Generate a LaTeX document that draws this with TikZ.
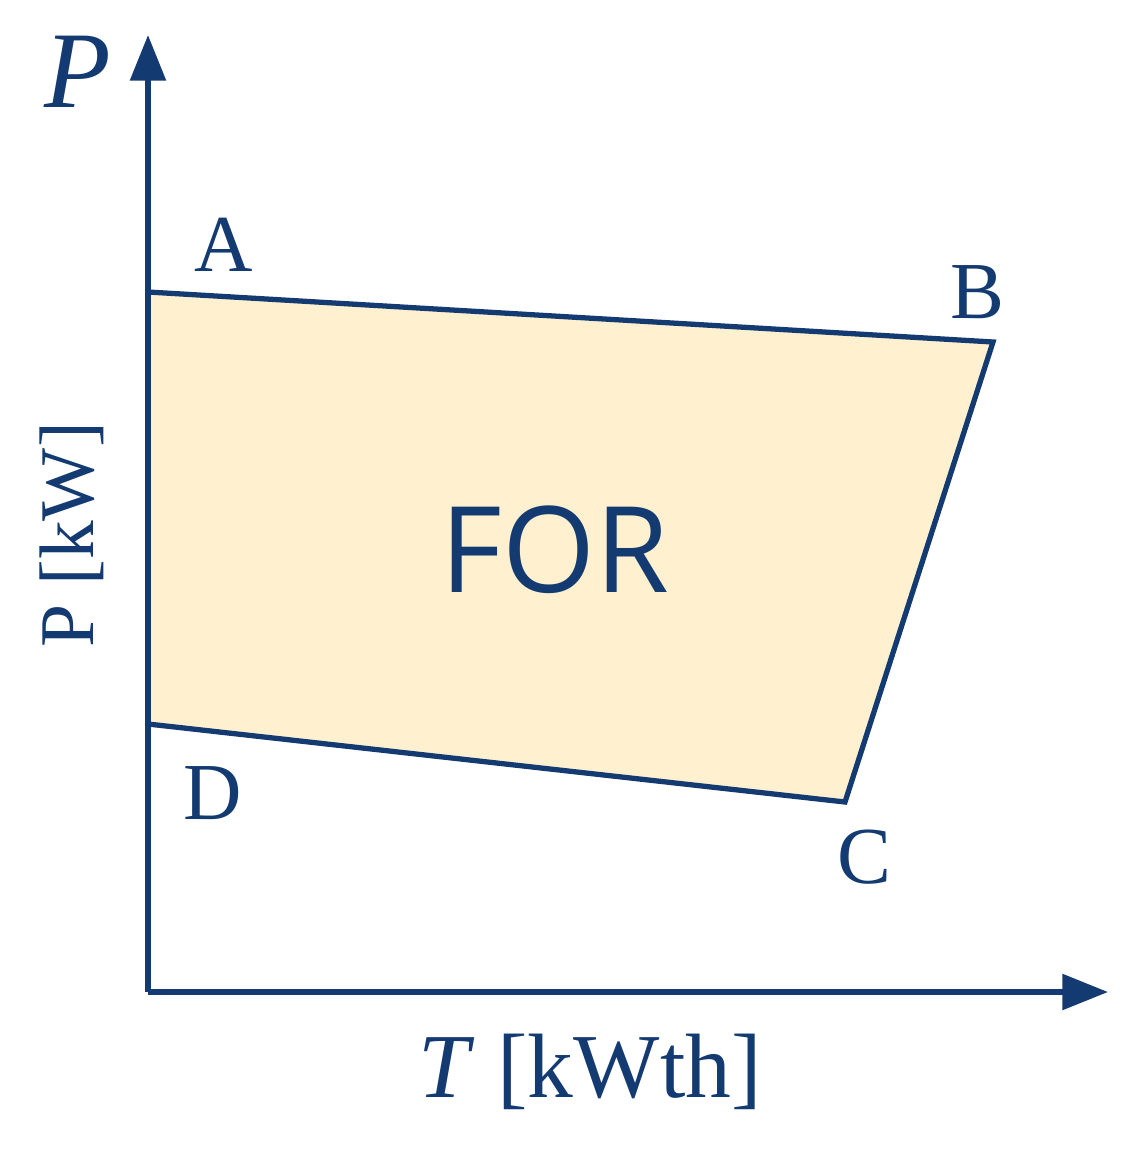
\documentclass[tikz,border=0pt]{standalone}
\usepackage{fontspec}
\setmainfont{Liberation Serif}
\newfontfamily\forfont{Open Sans}
\usetikzlibrary{arrows.meta}
\definecolor{navy}{HTML}{143A72}
\definecolor{fillc}{HTML}{FFF1CF}
\tikzset{axis/.style={navy,line width=1.5pt,-{Triangle[length=13pt,width=10pt]}},
 edge/.style={navy,line width=1.5pt,line join=miter},
 lbl/.style={navy,font=\fontsize{23}{25}\selectfont,inner sep=0pt}}
\begin{document}
\begin{tikzpicture}[x=0.01cm,y=-0.01cm]
\useasboundingbox (0,0) rectangle (1145,1160);
\coordinate (O) at (148,992);
\coordinate (Ytop) at (148,35);
\coordinate (Xend) at (1108,992);
\coordinate (A) at (148,292);
\coordinate (B) at (993,342);
\coordinate (C) at (845,802);
\coordinate (D) at (148,724);
\fill[fillc] (A) -- (B) -- (C) -- (D) -- cycle;
\draw[edge] (A) -- (B) -- (C) -- (D);
\draw[axis] (O) -- (Ytop);
\draw[axis] (O) -- (Xend);
\node[lbl] (la) at (224,245) {A};
\node[lbl] (lb) at (977,292) {B};
\node[lbl] (lc) at (864,857) {C};
\node[lbl] (ld) at (213,793) {D};
\node[navy,font=\forfont\fontsize{34}{36}\selectfont,inner sep=0pt] (for) at (555,550) {FOR};
\node[navy,font=\fontsize{31}{33}\selectfont\itshape,inner sep=0pt] (p) at (78,72) {P};
\node[navy,font=\fontsize{22}{24}\selectfont,inner sep=0pt,rotate=90] (py) at (72,535) {P [kW]};
\node[navy,font=\fontsize{26}{28}\selectfont,inner sep=0pt] (tx) at (590,1072) {\textit{T} [kWth]};
\end{tikzpicture}
\end{document}
